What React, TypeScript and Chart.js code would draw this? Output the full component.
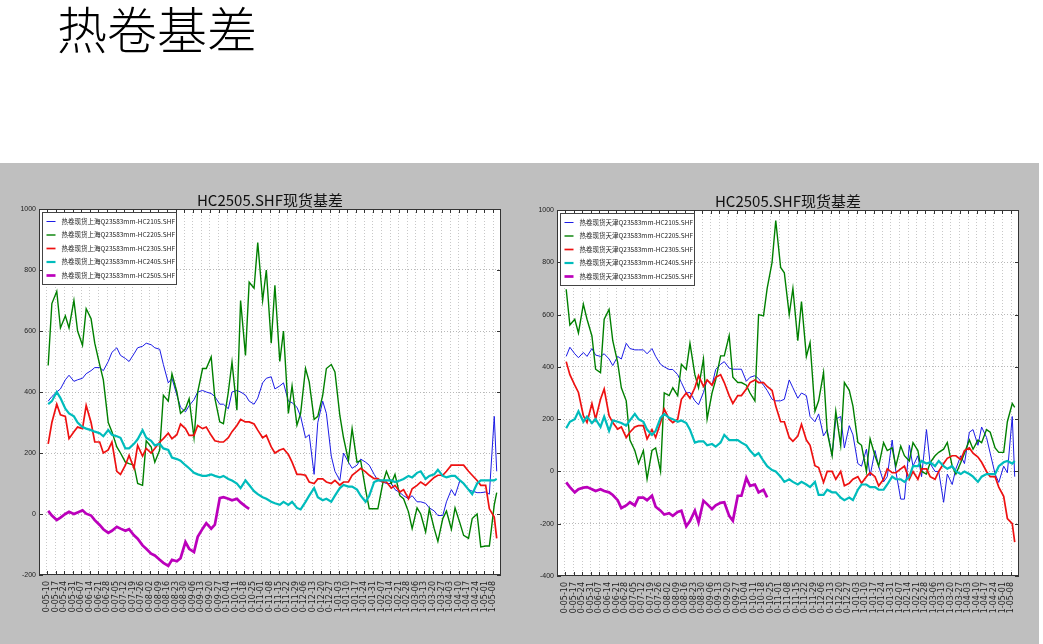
import React, { useEffect, useRef } from "react";
import { Chart, registerables } from "chart.js";

Chart.register(...registerables);

const PAGE_TITLE = "热卷基差";
const CHART_TITLE = "HC2505.SHF现货基差";

const TICK_LABELS = [
  "0-05-10", "0-05-17", "0-05-24", "0-05-31", "0-06-07", "0-06-14", "0-06-21", "0-06-28",
  "0-07-05", "0-07-12", "0-07-19", "0-07-26", "0-08-02", "0-08-09", "0-08-16", "0-08-23",
  "0-08-30", "0-09-06", "0-09-13", "0-09-20", "0-09-27", "0-10-04", "0-10-11", "0-10-18",
  "0-10-25", "0-11-01", "0-11-08", "0-11-15", "0-11-22", "0-11-29", "0-12-06", "0-12-13",
  "0-12-20", "0-12-27", "1-01-03", "1-01-10", "1-01-17", "1-01-24", "1-01-31", "1-02-07",
  "1-02-14", "1-02-21", "1-02-28", "1-03-06", "1-03-13", "1-03-20", "1-03-27", "1-04-03",
  "1-04-10", "1-04-17", "1-04-24", "1-05-01", "1-05-08",
];
// tick positions in days since 2020-05-10 (one per week)
const TICK_DAYS = TICK_LABELS.map((_, i) => i * 7);

// sample dates (days since 2020-05-10): Monday and Thursday of each week, last week Mon/Wed
const SAMPLE_DAYS: number[] = [];
for (let k = 0; k < 52; k++) {
  SAMPLE_DAYS.push(7 * k + 1, 7 * k + 4);
}
SAMPLE_DAYS.push(365, 367);

// ---- Shanghai (left chart) ----
const SH_LABELS = [
  "热卷现货上海Q23583mm-HC2105.SHF",
  "热卷现货上海Q23583mm-HC2205.SHF",
  "热卷现货上海Q23583mm-HC2305.SHF",
  "热卷现货上海Q23583mm-HC2405.SHF",
  "热卷现货上海Q23583mm-HC2505.SHF",
];
const SH_2105 = [
  370, 385, 400, 410, 440, 455, 435, 440, 445, 460, 470, 480, 480, 470, 500, 530, 545, 520, 510, 500,
  525, 545, 550, 560, 555, 545, 540, 490, 430, 445, 390, 350, 335, 355, 375, 400, 405, 400, 395, 385,
  360, 360, 345, 400, 405, 400, 390, 370, 360, 380, 430, 445, 450, 410, 420, 430, 370, 365, 350, 320,
  250, 260, 130, 300, 370, 330, 190, 140, 110, 200, 170, 150, 160, 180, 170, 160, 130, 110, 105, 100,
  100, 80, 70, 60, 50, 60, 40, 40, 35, 20, 10, -5, -5, 40, 80, 60, 110, 100, 80, 75,
  70, 70, 72, 65, 320, 140,
];
const SH_2205 = [
  487, 690, 730, 610, 650, 610, 700, 600, 553, 673, 640, 560, 490, 440, 300, 270, 220, 200, 170, 165,
  160, 100, 94, 240, 220, 170, 210, 389, 370, 460, 400, 330, 345, 378, 250, 400, 477, 477, 515, 380,
  302, 296, 400, 498, 340, 700, 520, 760, 740, 890, 700, 800, 560, 750, 500, 600, 330, 420, 291, 330,
  477, 433, 310, 320, 389, 477, 490, 466, 323, 250, 175, 280, 170, 175, 80, 17, 17, 17, 100, 140,
  100, 130, 60, 50, 7, -48, 20, 0, -59, 17, -48, -90, -15, 10, -50, 20, -30, -70, -80, -15,
  0, -108, -105, -105, 30, 70,
];
const SH_2305 = [
  230, 300, 360, 325, 320, 247, 270, 285, 280, 356, 300, 236, 236, 200, 210, 236, 140, 130, 160, 192,
  150, 225, 190, 215, 200, 215, 236, 247, 265, 247, 260, 295, 280, 258, 258, 290, 280, 285, 258, 240,
  236, 236, 250, 270, 290, 310, 302, 302, 295, 275, 250, 258, 220, 200, 210, 214, 195, 170, 130, 130,
  127, 105, 100, 115, 115, 105, 100, 110, 95, 105, 105, 127, 140, 150, 138, 127, 116, 116, 105, 105,
  85, 94, 72, 80, 50, 83, 94, 105, 94, 105, 120, 127, 127, 140, 160, 160, 160, 160, 140, 127,
  110, 94, 94, 17, -10, -80,
];
const SH_2405 = [
  360, 370, 400, 380, 345, 330, 320, 300, 285, 280, 275, 270, 265, 255, 275, 260, 255, 250, 215, 215,
  230, 245, 275, 250, 240, 225, 230, 215, 210, 185, 180, 175, 160, 150, 135, 130, 125, 125, 130, 125,
  120, 125, 115, 110, 100, 85, 110, 95, 75, 65, 55, 50, 40, 35, 30, 40, 30, 40, 20, 15,
  40, 60, 85, 55, 45, 50, 40, 60, 85, 95, 90, 90, 80, 60, 40, 60, 105, 110, 110, 110,
  110, 105, 110, 115, 125, 120, 135, 140, 115, 125, 130, 145, 125, 120, 125, 125, 110, 100, 80, 65,
  100, 110, 110, 110, 110, 115,
];
const SH_2505 = [
  10, -5, -20, -12, 0, 7, 0, 5, 12, 1, -5, -20, -36, -50, -62, -55, -42, -48, -55, -50,
  -70, -81, -103, -114, -130, -136, -150, -160, -170, -150, -155, -145, -92, -114, -125, -75, -48, -30, -48, -35,
  52, 55, 50, 45, 50, 38, 25, 17,
];

// ---- Tianjin (right chart) ----
const TJ_LABELS = [
  "热卷现货天津Q23583mm-HC2105.SHF",
  "热卷现货天津Q23583mm-HC2205.SHF",
  "热卷现货天津Q23583mm-HC2305.SHF",
  "热卷现货天津Q23583mm-HC2405.SHF",
  "热卷现货天津Q23583mm-HC2505.SHF",
];
const TJ_2105 = [
  440, 475, 450, 435, 455, 440, 470, 445, 440, 450, 430, 405, 440, 430, 490, 470, 465, 465, 465, 450,
  470, 440, 410, 400, 390, 390, 370, 340, 300, 302, 270, 255, 302, 350, 330, 390, 410, 420, 395, 391,
  391, 391, 345, 360, 366, 355, 330, 310, 276, 270, 270, 276, 350, 320, 280, 300, 290, 210, 190, 220,
  136, 160, 60, 200, 210, 90, 175, 140, 30, 20, 85, -17, 80, 20, -40, -20, 120, 0, -106, -106,
  100, 20, 60, -20, 160, 30, 0, 0, -118, -10, -50, 10, 60, 30, 150, 160, 100, 170, 130, 70,
  -10, -42, 20, -5, 210, -20,
];
const TJ_2205 = [
  697, 560, 582, 530, 640, 582, 518, 391, 378, 582, 620, 500, 417, 320, 270, 120, 80, 30, 80, -29,
  80, 90, 0, 300, 290, 320, 290, 410, 390, 490, 370, 320, 430, 200, 300, 350, 442, 442, 520, 360,
  340, 340, 330, 300, 270, 600, 595, 700, 800, 960, 780, 760, 600, 700, 500, 650, 440, 493, 230, 270,
  378, 150, 60, 230, 100, 340, 310, 250, 111, 100, 0, 125, 60, 20, 110, 80, 90, 20, 97, 60,
  40, 110, 80, 0, -10, 34, 60, 73, 85, 111, 20, -10, 34, 70, 120, 85, 120, 110, 160, 150,
  90, 73, 73, 190, 260, 245,
];
const TJ_2305 = [
  420, 370, 330, 302, 213, 187, 260, 200, 276, 315, 213, 187, 162, 170, 130, 150, 170, 175, 175, 124,
  160, 130, 187, 238, 200, 187, 200, 276, 300, 280, 320, 366, 325, 350, 330, 360, 370, 340, 290, 260,
  290, 290, 315, 340, 350, 340, 340, 325, 310, 250, 190, 190, 130, 115, 135, 180, 120, 100, 22, 15,
  -42, 0, 0, -30, 0, -55, -45, -30, -20, -45, -20, -5, -20, -55, -30, 10, -5, -5, 10, 20,
  -30, 0, -30, 10, 10, -20, -30, 0, 30, 50, 60, 60, 45, 80, 90, 70, 55, 35, 0, -20,
  -20, -60, -95, -180, -200, -270,
];
const TJ_2405 = [
  165, 190, 200, 230, 190, 210, 185, 200, 170, 210, 155, 195, 190, 185, 175, 195, 220, 200, 190, 160,
  140, 155, 205, 220, 205, 200, 190, 195, 185, 160, 110, 115, 115, 100, 105, 95, 110, 140, 120, 120,
  120, 110, 100, 80, 60, 70, 40, 20, 5, 0, -20, -40, -30, -40, -50, -40, -50, -60, -40, -90,
  -90, -70, -80, -80, -100, -110, -100, -110, -70, -50, -50, -60, -60, -70, -70, -50, -20, -30, -30, -40,
  -20, 20, 20, 40, 30, 35, 20, 40, 20, 10, 20, 0, -10, 0, -10, -20, -40, -20, -10, -10,
  -10, 20, 35, 40, 30, 40,
];
const TJ_2505 = [
  -42, -60, -80, -68, -62, -60, -68, -75, -68, -75, -80, -90, -110, -140, -130, -118, -130, -100, -100, -110,
  -93, -135, -150, -165, -160, -170, -155, -150, -210, -190, -150, -195, -112, -125, -144, -130, -120, -118, -170, -189,
  -93, -93, -25, -55, -50, -80, -70, -99,
];

const COLORS = ["#1c1ce6", "#008000", "#ee1111", "#00bcbc", "#bb00bb"];
const WIDTHS = [1, 1.4, 1.7, 2.2, 2.7];

const CJK = '"Noto Sans CJK SC", "DejaVu Sans", sans-serif';

const framePlugin = {
  id: "frameAndLegend",
  beforeDraw(chart: any) {
    const { ctx, chartArea: a } = chart;
    ctx.save();
    ctx.fillStyle = "#ffffff";
    ctx.fillRect(a.left, a.top, a.right - a.left, a.bottom - a.top);
    ctx.restore();
  },
  afterDraw(chart: any) {
    const { ctx, chartArea: a, scales } = chart;
    ctx.save();
    ctx.strokeStyle = "#333333";
    ctx.lineWidth = 1;
    // inward tick marks
    ctx.beginPath();
    for (const t of scales.x.ticks) {
      const px = Math.round(scales.x.getPixelForValue(t.value)) + 0.5;
      ctx.moveTo(px, a.bottom);
      ctx.lineTo(px, a.bottom - 4);
      ctx.moveTo(px, a.top);
      ctx.lineTo(px, a.top + 4);
    }
    for (const t of scales.y.ticks) {
      const py = Math.round(scales.y.getPixelForValue(t.value)) + 0.5;
      ctx.moveTo(a.left, py);
      ctx.lineTo(a.left + 4, py);
      ctx.moveTo(a.right, py);
      ctx.lineTo(a.right - 4, py);
    }
    ctx.stroke();
    // frame
    ctx.strokeRect(Math.round(a.left) + 0.5, Math.round(a.top) + 0.5,
      Math.round(a.right - a.left) - 1, Math.round(a.bottom - a.top) - 1);

    // legend box
    const bx = Math.round(a.left) + 3.5;
    const by = Math.round(a.top) + 3.5;
    const bw = 134;
    const bh = 72;
    ctx.fillStyle = "#ffffff";
    ctx.fillRect(bx, by, bw, bh);
    ctx.strokeStyle = "#444444";
    ctx.strokeRect(bx, by, bw, bh);
    ctx.font = `6.5px ${CJK}`;
    ctx.textBaseline = "middle";
    ctx.textAlign = "left";
    chart.data.datasets.forEach((ds: any, i: number) => {
      const y = by + 9 + i * 13.5;
      ctx.strokeStyle = ds.borderColor;
      ctx.lineWidth = ds.borderWidth;
      ctx.beginPath();
      ctx.moveTo(bx + 4, y);
      ctx.lineTo(bx + 13, y);
      ctx.stroke();
      ctx.fillStyle = "#222222";
      ctx.fillText(ds.label, bx + 19, y);
    });
    ctx.restore();
  },
};

function buildConfig(
  labels: string[],
  series: number[][],
  yMin: number,
  yMax: number,
  yAxisWidth: number,
  topPad: number,
  xAxisHeight: number,
  rightPad: number
): any {
  return {
    type: "line",
    data: {
      datasets: series.map((vals, i) => ({
        label: labels[i],
        data: SAMPLE_DAYS.map((d, j) => ({ x: d, y: j < vals.length ? vals[j] : null })),
        borderColor: COLORS[i],
        borderWidth: WIDTHS[i],
        pointRadius: 0,
        fill: false,
        tension: 0,
        spanGaps: false,
        order: series.length - i,
      })),
    },
    options: {
      animation: false,
      responsive: false,
      maintainAspectRatio: false,
      events: [],
      layout: { padding: { top: topPad, right: rightPad, bottom: 0, left: 0 } },
      plugins: {
        legend: { display: false },
        tooltip: { enabled: false },
        title: {
          display: true,
          text: CHART_TITLE,
          fullSize: false,
          color: "#111111",
          font: { family: CJK, size: 15, weight: "normal", lineHeight: 1.2 },
          padding: { top: 0, bottom: 0 },
        },
      },
      scales: {
        x: {
          type: "linear",
          min: -6.5,
          max: 370.5,
          afterBuildTicks: (s: any) => {
            s.ticks = TICK_DAYS.map((v) => ({ value: v }));
          },
          afterFit: (s: any) => {
            s.height = xAxisHeight;
          },
          ticks: {
            autoSkip: false,
            maxRotation: 90,
            minRotation: 90,
            padding: 6,
            color: "#222222",
            font: { family: '"DejaVu Sans", sans-serif', size: 8 },
            callback: (_v: any, i: number) => TICK_LABELS[i],
          },
          grid: { color: "#c8c8c8", lineWidth: 1, drawTicks: false },
          border: { display: false, dash: [1, 2] },
        },
        y: {
          type: "linear",
          min: yMin,
          max: yMax,
          afterFit: (s: any) => {
            s.width = yAxisWidth;
          },
          ticks: {
            stepSize: 200,
            padding: 3,
            color: "#222222",
            font: { family: '"Liberation Sans", sans-serif', size: 7 },
            callback: (v: any) => String(v),
          },
          grid: { color: "#b8b8b8", lineWidth: 1, drawTicks: false },
          border: { display: false, dash: [1, 2] },
        },
      },
    },
    plugins: [framePlugin],
  };
}

export default function App() {
  const leftRef = useRef<HTMLCanvasElement>(null);
  const rightRef = useRef<HTMLCanvasElement>(null);

  useEffect(() => {
    const c1 = new Chart(
      leftRef.current as HTMLCanvasElement,
      buildConfig(SH_LABELS, [SH_2105, SH_2205, SH_2305, SH_2405, SH_2505], -200, 1000, 39, 28, 69, 19)
    );
    const c2 = new Chart(
      rightRef.current as HTMLCanvasElement,
      buildConfig(TJ_LABELS, [TJ_2105, TJ_2205, TJ_2305, TJ_2405, TJ_2505], -400, 1000, 37, 29, 68, 21)
    );
    return () => {
      c1.destroy();
      c2.destroy();
    };
  }, []);

  return (
    <div
      style={{
        position: "absolute",
        left: 0,
        top: 0,
        width: 1043,
        height: 644,
        background: "#ffffff",
        overflow: "hidden",
      }}
    >
      <div
        style={{
          position: "absolute",
          left: 57,
          top: 0,
          fontSize: 50,
          lineHeight: "54px",
          fontFamily: CJK,
          fontWeight: 300,
          color: "#000000",
          whiteSpace: "nowrap",
        }}
      >
        {PAGE_TITLE}
      </div>
      <div
        style={{
          position: "absolute",
          left: 0,
          top: 163,
          width: 1039,
          height: 481,
          background: "#bfbfbf",
        }}
      />
      <canvas
        ref={leftRef}
        width={520}
        height={481}
        style={{ position: "absolute", left: 0, top: 163, width: 520, height: 481 }}
      />
      <canvas
        ref={rightRef}
        width={520}
        height={481}
        style={{ position: "absolute", left: 520, top: 163, width: 520, height: 481 }}
      />
    </div>
  );
}
